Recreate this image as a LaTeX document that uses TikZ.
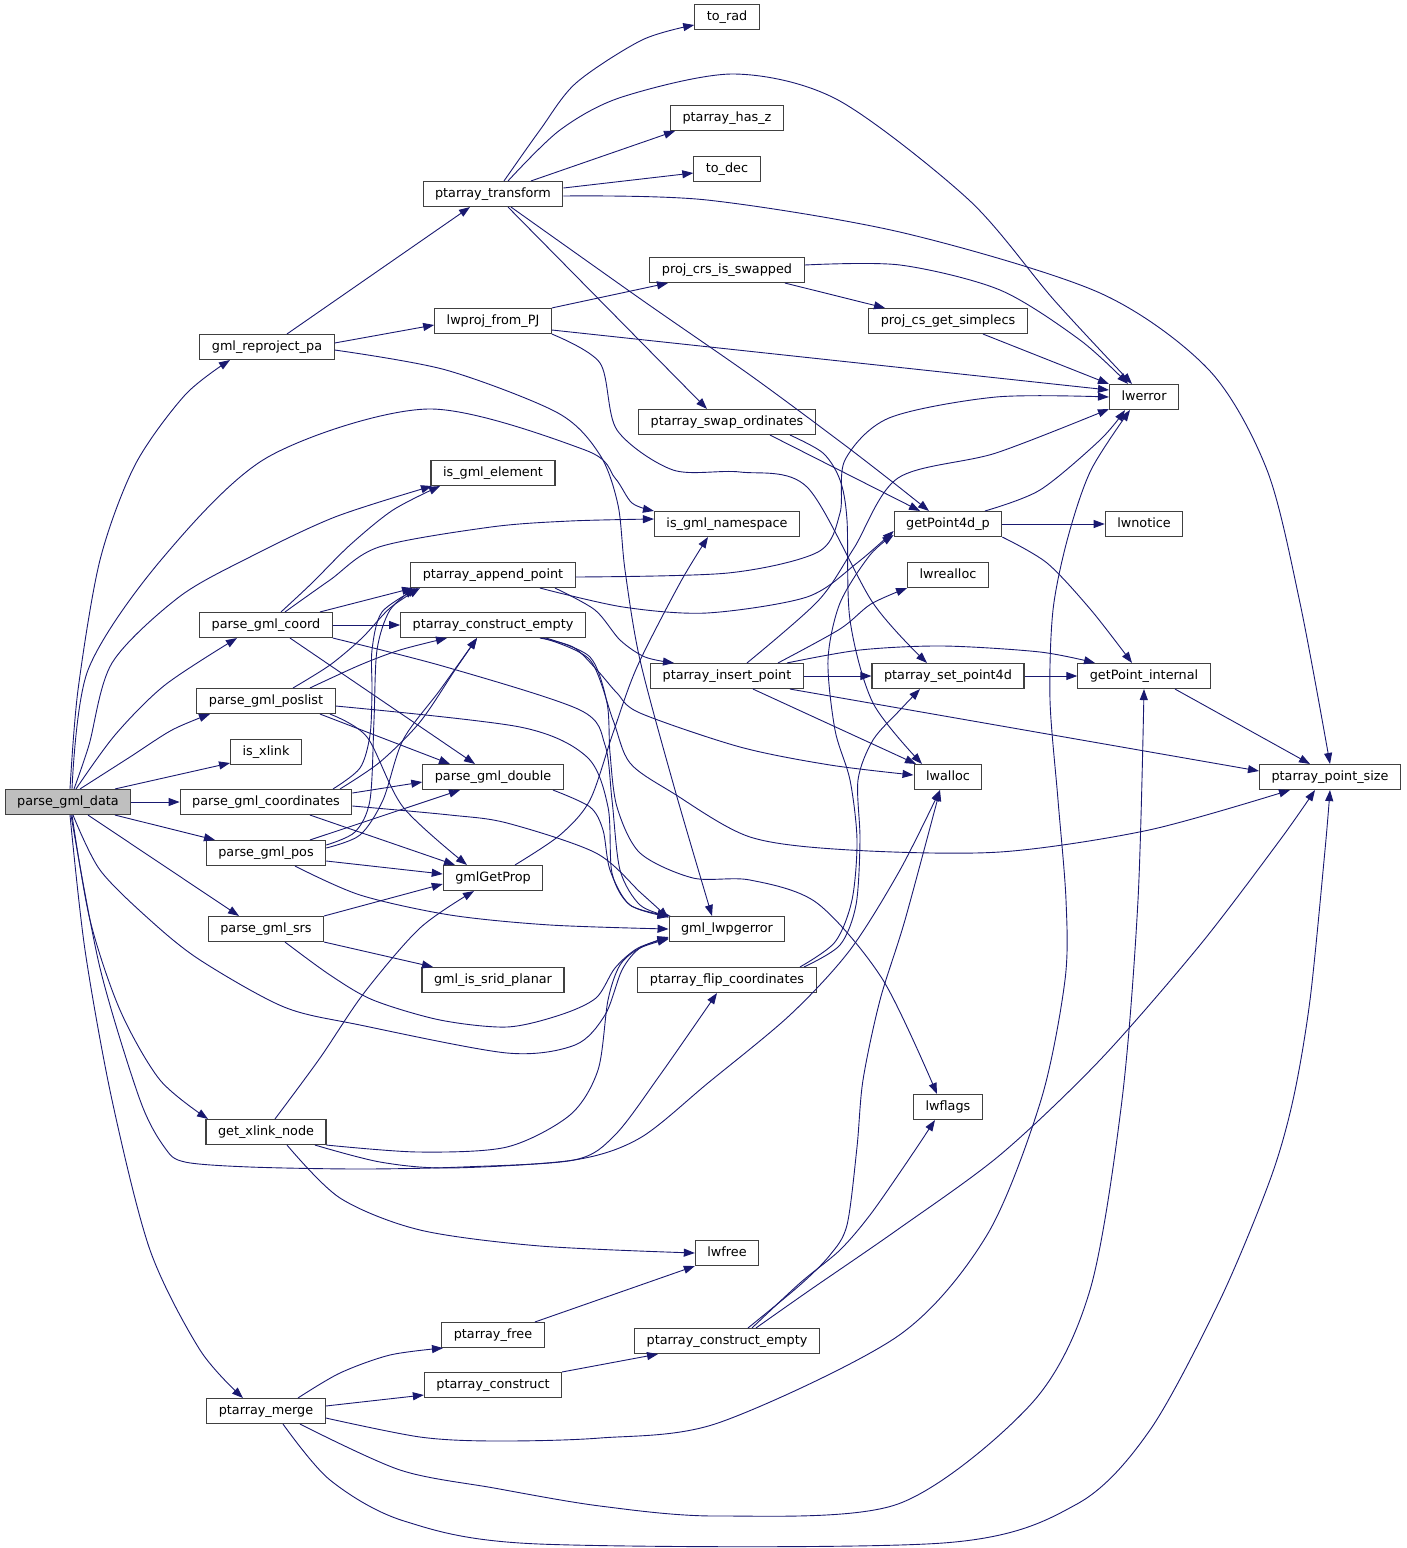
\documentclass[tikz,border=0pt]{standalone}
\usepackage{fontspec}
\setmainfont{DejaVu Sans}
\usetikzlibrary{arrows.meta}
\definecolor{edgeblue}{HTML}{191970}
\definecolor{boxcol}{HTML}{404040}
\definecolor{curfill}{HTML}{BFBFBF}
\begin{document}
\begin{tikzpicture}[x=1pt,y=-1pt,
  fn/.style={draw=boxcol, line width=1.1pt, fill=white, minimum height=25pt,
    inner xsep=12pt, inner ysep=0pt, text height=9.5pt, text depth=3pt,
    font=\fontsize{12.8pt}{14pt}\selectfont},
  call/.style={draw=edgeblue, line width=0.9pt, -{Triangle[length=11pt,width=8pt]}}]
\useasboundingbox (0,0) rectangle (1407,1548);
% nodes
\node[fn,fill=curfill] (pgd) at (68,802) {parse\_gml\_data};
\node[fn] (grp) at (267,347) {gml\_reproject\_pa};
\node[fn] (pgcoord) at (266,625) {parse\_gml\_coord};
\node[fn] (pgposlist) at (266,701) {parse\_gml\_poslist};
\node[fn] (isx) at (266,752) {is\_xlink};
\node[fn] (pgcoords) at (266,802) {parse\_gml\_coordinates};
\node[fn] (pgpos) at (266,853) {parse\_gml\_pos};
\node[fn] (pgsrs) at (266,929) {parse\_gml\_srs};
\node[fn] (gxn) at (266,1132) {get\_xlink\_node};
\node[fn] (pmerge) at (266,1411) {ptarray\_merge};
\node[fn] (ptr) at (493,194) {ptarray\_transform};
\node[fn] (lwproj) at (493,321) {lwproj\_from\_PJ};
\node[fn] (isge) at (493,473) {is\_gml\_element};
\node[fn] (pap) at (493,575) {ptarray\_append\_point};
\node[fn] (pce) at (493,625) {ptarray\_construct\_empty};
\node[fn] (pgd2) at (493,777) {parse\_gml\_double};
\node[fn] (ggp) at (493,878) {gmlGetProp};
\node[fn] (gisp) at (493,980) {gml\_is\_srid\_planar};
\node[fn] (pfree) at (493,1335) {ptarray\_free};
\node[fn] (pcons) at (493,1385) {ptarray\_construct};
\node[fn] (torad) at (727,17) {to\_rad};
\node[fn] (phz) at (727,118) {ptarray\_has\_z};
\node[fn] (todec) at (727,169) {to\_dec};
\node[fn] (pcis) at (727,270) {proj\_crs\_is\_swapped};
\node[fn] (pso) at (727,422) {ptarray\_swap\_ordinates};
\node[fn] (isgn) at (727,524) {is\_gml\_namespace};
\node[fn] (pip) at (727,676) {ptarray\_insert\_point};
\node[fn] (glwe) at (727,929) {gml\_lwpgerror};
\node[fn] (pfc) at (727,980) {ptarray\_flip\_coordinates};
\node[fn] (lwfree) at (727,1253) {lwfree};
\node[fn] (pce2) at (727,1341) {ptarray\_construct\_empty};
\node[fn] (pcgs) at (948,321) {proj\_cs\_get\_simplecs};
\node[fn] (gp4) at (948,524) {getPoint4d\_p};
\node[fn] (lwrealloc) at (948,575) {lwrealloc};
\node[fn] (psp) at (948,676) {ptarray\_set\_point4d};
\node[fn] (lwalloc) at (948,777) {lwalloc};
\node[fn] (lwflags) at (948,1107) {lwflags};
\node[fn] (lwerror) at (1144,397) {lwerror};
\node[fn] (lwnotice) at (1144,524) {lwnotice};
\node[fn] (gpi) at (1144,676) {getPoint\_internal};
\node[fn] (pps) at (1330,777) {ptarray\_point\_size};
% parse_gml_data
\draw[call] plot[smooth] coordinates {([xshift=2pt]pgd.north) (78,690) (100,560) (135,465) (185,395) ([xshift=-37pt]grp.south)};
\draw[call] plot[smooth] coordinates {([xshift=4pt]pgd.north) (88,670) (161,560) (268,457) (428,409) (585,450) (615,478) (632,503) (isgn.north west)};
\draw[call] plot[smooth] coordinates {([xshift=6pt]pgd.north) (89,745) (112,663) (179,597) (250,557) (335,517) ([xshift=-61pt]isge.south)};
\draw[call] plot[smooth] coordinates {([xshift=8pt]pgd.north) (115,735) (165,685) ([xshift=-29pt]pgcoord.south)};
\draw[call] plot[smooth] coordinates {([xshift=12pt]pgd.north) (130,757) (172,730) ([xshift=-56pt]pgposlist.south)};
\draw[call] ([xshift=47pt]pgd.north) -- ([yshift=-11pt]isx.west);
\draw[call] (pgd.east) -- (pgcoords.west);
\draw[call] ([xshift=47pt]pgd.south) -- ([xshift=-51pt]pgpos.north);
\draw[call] ([xshift=20pt]pgd.south) -- ([xshift=-27pt]pgsrs.north);
\draw[call] plot[smooth] coordinates {([xshift=4pt]pgd.south) (90,920) (120,1010) (160,1080) ([xshift=-58pt]gxn.north)};
\draw[call] plot[smooth] coordinates {([xshift=2pt]pgd.south) (85,950) (112,1100) (150,1250) (200,1350) ([xshift=-23pt]pmerge.north)};
\draw[call] plot[smooth] coordinates {([xshift=5pt]pgd.south) (100,870) (150,920) (200,960) (284,1007) (360,1025) (507,1053) (575,1045) (605,1015) (622,970) (640,948) ([yshift=-8pt]glwe.west)};
\draw[call] plot[smooth] coordinates {([xshift=3pt]pgd.south) (100,968) (140,1100) (165,1148) (185,1162) (250,1167) (360,1169) (462,1167) (574,1160) (615,1135) (660,1075) ([xshift=-10pt]pfc.south)};
% get_xlink_node
\draw[call] plot[smooth] coordinates {([xshift=9pt]gxn.north) (320,1058) (364,993) (420,928) ([xshift=-19pt]ggp.south)};
\draw[call] plot[smooth] coordinates {(gxn.south east) (418,1152) (507,1147) (570,1115) (598,1070) (608,1000) (620,965) (640,948) ([yshift=-10pt]glwe.west)};
\draw[call] plot[smooth] coordinates {([xshift=49pt]gxn.south) (380,1162) (449,1168) (574,1160) (640,1138) (708,1083) (790,1015) (850,950) (900,870) ([xshift=-8pt]lwalloc.south)};
\draw[call] plot[smooth] coordinates {([xshift=21pt]gxn.south) (340,1198) (420,1230) (540,1246) (lwfree.west)};
% ptarray_merge
\draw[call] plot[smooth] coordinates {([xshift=32pt]pmerge.north) (340,1373) (390,1355) ([xshift=-50pt]pfree.south)};
\draw[call] ([yshift=5pt]pmerge.east) -- ([yshift=-10pt]pcons.west);
\draw[call] plot[smooth] coordinates {([yshift=-7pt]pmerge.east) (420,1437) (494,1441) (600,1438) (718,1423) (898,1336) (987,1235) (1041,1100) (1065,980) (1066,900) (1058,800) (1050,700) (1053,610) (1068,537) (1091,470) ([xshift=-14pt]lwerror.south)};
\draw[call] plot[smooth] coordinates {([xshift=34pt]pmerge.south) (400,1470) (494,1488) (600,1506) (718,1516) (898,1504) (1032,1403) (1090,1290) (1122,1100) (1138,900) (gpi.south)};
\draw[call] plot[smooth] coordinates {([xshift=17pt]pmerge.south) (330,1480) (404,1521) (539,1544) (943,1543) (1077,1504) (1150,1430) (1220,1300) (1270,1180) (1293,1100) (1310,1000) (1325,850) (pps.south)};
\draw[call] ([xshift=42pt]pfree.north) -- (lwfree.south west);
\draw[call] (pcons.north east) -- ([xshift=-69pt]pce2.south);
% ptarray_construct_empty (lower)
\draw[call] plot[smooth] coordinates {([xshift=21pt]pce2.north) (800,1285) (830,1255) (847,1225) (857,1147) (863,1080) (880,1000) (905,920) ([xshift=-8pt]lwalloc.south)};
\draw[call] plot[smooth] coordinates {([xshift=25pt]pce2.north) (800,1283) (840,1250) (870,1215) (905,1165) ([xshift=-13pt]lwflags.south)};
\draw[call] plot[smooth] coordinates {([xshift=29pt]pce2.north) (810,1290) (897,1230) (1000,1155) (1100,1060) (1200,945) (1280,840) ([xshift=-15pt]pps.south)};
% ptarray_flip_coordinates
\draw[call] plot[smooth] coordinates {([xshift=73pt]pfc.north) (835,942) (852,900) (857,840) (850,780) (835,730) (828,660) (840,603) (870,555) ([yshift=-11pt]gp4.west)};
\draw[call] plot[smooth] coordinates {([xshift=77pt]pfc.north) (840,945) (856,905) (860,840) (858,780) (873,740) (900,710) ([xshift=-28pt]psp.south)};
% gmlGetProp
\draw[call] plot[smooth] coordinates {([xshift=22pt]ggp.north) (560,835) (590,800) (613,733) (637,667) (680,583) ([xshift=-19pt]isgn.south)};
% parse_gml_srs
\draw[call] (pgsrs.north east) -- ([yshift=-6pt]ggp.west);
\draw[call] (pgsrs.south east) -- ([xshift=-60pt]gisp.north);
\draw[call] plot[smooth] coordinates {([xshift=19pt]pgsrs.south) (330,975) (373,1000) (440,1020) (507,1027) (560,1015) (596,998) (615,968) (638,948) ([yshift=-9pt]glwe.west)};
% parse_gml_pos
\draw[call] plot[smooth] coordinates {([yshift=8pt]pgpos.east) (355,832) (370,800) (374,720) (377,650) (390,610) ([xshift=-78pt]pap.south)};
\draw[call] plot[smooth] coordinates {([yshift=5pt]pgpos.east) (360,835) (383,800) (403,740) (440,690) ([xshift=-16pt]pce.south)};
\draw[call] ([xshift=44pt]pgpos.north) -- ([xshift=-33pt]pgd2.south);
\draw[call] ([yshift=-8pt]pgpos.east) -- ([yshift=4pt]ggp.west);
\draw[call] plot[smooth] coordinates {([xshift=29pt]pgpos.south) (360,895) (450,915) (550,925) (glwe.west)};
% parse_gml_coordinates
\draw[call] plot[smooth] coordinates {([xshift=67pt]pgcoords.north) (360,768) (370,735) (372,690) (372,650) (382,612) ([xshift=-75pt]pap.south)};
\draw[call] plot[smooth] coordinates {([xshift=74pt]pgcoords.north) (380,762) (420,722) (455,670) ([xshift=-16pt]pce.south)};
\draw[call] ([yshift=9pt]pgcoords.east) -- ([yshift=-5pt]pgd2.west);
\draw[call] ([xshift=44pt]pgcoords.south) -- ([xshift=-38pt]ggp.north);
\draw[call] plot[smooth] coordinates {([yshift=-4pt]pgcoords.east) (450,815) (507,823) (596,853) (641,893) ([yshift=-2pt]glwe.north west)};
% parse_gml_poslist
\draw[call] plot[smooth] coordinates {([xshift=27pt]pgposlist.north) (330,665) (362,638) (390,608) ([xshift=-73pt]pap.south)};
\draw[call] plot[smooth] coordinates {([xshift=44pt]pgposlist.north) (360,665) (400,650) ([xshift=-46pt]pce.south)};
\draw[call] ([xshift=54pt]pgposlist.south) -- ([xshift=-43pt]pgd2.north);
\draw[call] plot[smooth] coordinates {([xshift=64pt]pgposlist.south) (367,737) (403,807) ([xshift=-26pt]ggp.north)};
\draw[call] plot[smooth] coordinates {([yshift=-5pt]pgposlist.east) (520,727) (587,757) (608,807) (612,873) (630,905) ([yshift=-1pt]glwe.north west)};
% parse_gml_coord
\draw[call] plot[smooth] coordinates {([xshift=15pt]pgcoord.north) (312,583) (350,545) (393,510) ([xshift=-53pt]isge.south)};
\draw[call] plot[smooth] coordinates {([xshift=19pt]pgcoord.north) (330,580) (379,547) (491,527) (570,521) ([yshift=5pt]isgn.west)};
\draw[call] ([xshift=54pt]pgcoord.north) -- ([xshift=-80pt]pap.south);
\draw[call] (pgcoord.east) -- (pce.west);
\draw[call] ([xshift=24pt]pgcoord.south) -- ([xshift=-18pt]pgd2.north);
\draw[call] plot[smooth] coordinates {(pgcoord.south east) (446,667) (580,710) (605,745) (612,800) (620,870) (640,905) (glwe.north west)};
% parse_gml_double
\draw[call] plot[smooth] coordinates {([xshift=60pt]pgd2.south) (590,807) (603,830) (610,870) (630,905) ([xshift=2pt]glwe.north west)};
% ptarray_append_point
\draw[call] plot[smooth] coordinates {([yshift=-2pt]pap.east) (728,573) (818,552) (840,513) (845,460) (889,418) (996,397) (lwerror.west)};
\draw[call] plot[smooth] coordinates {([xshift=47pt]pap.south) (623,607) (707,613) (807,597) (857,563) ([yshift=-7pt]gp4.west)};
\draw[call] plot[smooth] coordinates {([xshift=62pt]pap.south) (595,610) (620,640) (645,657) ([xshift=-53pt]pip.north)};
% ptarray_construct_empty (upper)
\draw[call] plot[smooth] coordinates {([xshift=47pt]pce.south) (573,647) (597,670) (617,693) (640,713) (740,747) (830,765) ([yshift=2pt]lwalloc.west)};
\draw[call] plot[smooth] coordinates {([xshift=50pt]pce.south) (590,660) (613,720) (630,763) (673,793) (750,837) (850,850) (1000,852) (1149,830) ([xshift=-40pt]pps.south)};
\draw[call] plot[smooth] coordinates {([xshift=53pt]pce.south) (590,657) (607,703) (610,753) (617,807) (640,853) (693,878) (750,880) (817,903) (883,980) ([xshift=-11pt]lwflags.north)};
% ptarray_insert_point
\draw[call] plot[smooth] coordinates {([xshift=20pt]pip.north) (818,601) (854,548) (898,478) (996,453) ([yshift=1pt]lwerror.south west)};
\draw[call] plot[smooth] coordinates {([xshift=51pt]pip.north) (840,629) (871,604) (lwrealloc.south west)};
\draw[call] plot[smooth] coordinates {([xshift=60pt]pip.north) (860,650) (943,646) (1040,652) ([xshift=-49pt]gpi.north)};
\draw[call] (pip.east) -- (psp.west);
\draw[call] ([xshift=26pt]pip.south) -- ([xshift=-32pt]lwalloc.north);
\draw[call] ([xshift=63pt]pip.south) -- ([yshift=6pt]pps.west);
% ptarray_swap_ordinates
\draw[call] ([xshift=43pt]pso.south) -- ([xshift=-28pt]gp4.north);
\draw[call] plot[smooth] coordinates {([xshift=63pt]pso.south) (823,453) (840,480) (847,520) (850,620) (873,703) ([xshift=-26pt]lwalloc.north)};
% lwproj_from_PJ
\draw[call] (lwproj.north east) -- ([xshift=-59pt]pcis.south);
\draw[call] ([yshift=-9pt]lwproj.east) -- ([yshift=7pt]lwerror.west);
\draw[call] plot[smooth] coordinates {(lwproj.south east) (600,363) (617,430) (673,470) (740,472) (807,487) (873,603) ([xshift=-21pt]psp.north)};
% gml_reproject_pa
\draw[call] ([xshift=20pt]grp.north) -- ([xshift=-23pt]ptr.south);
\draw[call] ([yshift=4pt]grp.east) -- ([yshift=-4pt]lwproj.west);
\draw[call] plot[smooth] coordinates {([yshift=-3pt]grp.east) (446,370) (558,413) (600,455) (618,505) (625,570) (640,660) (675,790) ([xshift=-15pt]glwe.north)};
% ptarray_transform
\draw[call] plot[smooth] coordinates {([xshift=11pt]ptr.north) (540,130) (576,83) (642,40) ([yshift=-8pt]torad.west)};
\draw[call] plot[smooth] coordinates {([xshift=15pt]ptr.north) (560,130) (622,97) (734,74) (838,100) (969,200) (1054,300) ([xshift=-12pt]lwerror.north)};
\draw[call] ([xshift=38pt]ptr.north) -- ([xshift=5pt]phz.south west);
\draw[call] ([yshift=6pt]ptr.east) -- ([yshift=-4pt]todec.west);
\draw[call] plot[smooth] coordinates {([yshift=-2pt]ptr.east) (707,200) (904,233) (1100,293) (1209,370) (1267,470) (1300,603) (pps.north)};
\draw[call] plot[smooth] coordinates {([xshift=18pt]ptr.south) (642,300) (750,375) (838,440) (890,480) ([xshift=-19pt]gp4.north)};
\draw[call] ([xshift=15pt]ptr.south) -- ([xshift=-20pt]pso.north);
% proj_crs_is_swapped, proj_cs_get_simplecs
\draw[call] ([xshift=58pt]pcis.south) -- ([xshift=-63pt]pcgs.north);
\draw[call] plot[smooth] coordinates {([yshift=5pt]pcis.east) (900,265) (1000,290) (1080,340) ([xshift=-16pt]lwerror.north)};
\draw[call] ([xshift=35pt]pcgs.south) -- (lwerror.north west);
% getPoint4d_p
\draw[call] plot[smooth] coordinates {([xshift=37pt]gp4.north) (1040,490) (1100,440) ([xshift=-19pt]lwerror.south)};
\draw[call] (gp4.east) -- (lwnotice.west);
\draw[call] plot[smooth] coordinates {(gp4.south east) (1047,563) (1091,610) ([xshift=-12pt]gpi.north)};
\draw[call] (psp.east) -- (gpi.west);
\draw[call] ([xshift=31pt]gpi.south) -- ([xshift=-20pt]pps.north);
\end{tikzpicture}
\end{document}
